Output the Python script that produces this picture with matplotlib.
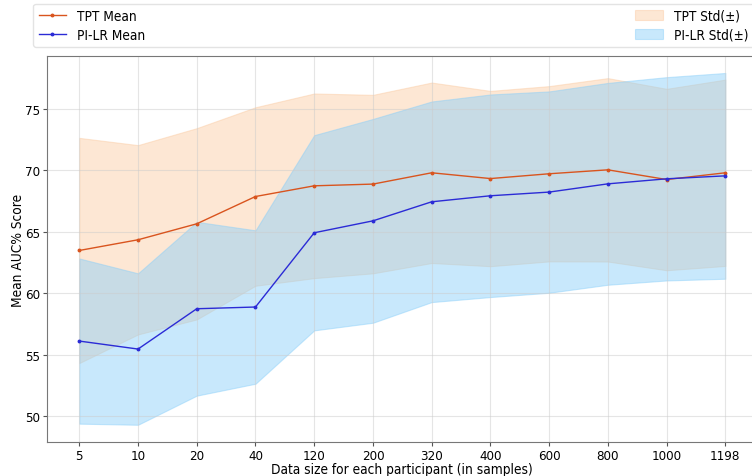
import numpy as np
import matplotlib
matplotlib.use('Agg')
import matplotlib.pyplot as plt

# data
sizes = ['5', '10', '20', '40', '120', '200', '320', '400', '600', '800', '1000', '1198']
tpt_mean = [63.48, 64.35, 65.65, 67.87, 68.74, 68.88, 69.80, 69.33, 69.72, 70.04, 69.25, 69.80]
tpt_std = [9.16, 7.70, 7.78, 7.26, 7.51, 7.26, 7.34, 7.13, 7.13, 7.46, 7.38, 7.58]
pilr_mean = [56.11, 55.46, 58.74, 58.88, 64.92, 65.89, 67.44, 67.93, 68.23, 68.90, 69.31, 69.55]
pilr_std = [6.72, 6.16, 7.07, 6.24, 7.94, 8.29, 8.16, 8.24, 8.19, 8.21, 8.27, 8.37]

plt.rcParams['font.stretch'] = 'condensed'

x = np.arange(len(sizes))
tm, ts = np.array(tpt_mean), np.array(tpt_std)
pm, ps = np.array(pilr_mean), np.array(pilr_std)

fig = plt.figure(figsize=(7.52, 4.77), dpi=100)
ax = fig.add_axes([0.0625, 0.0713, 0.945, 0.8092])

l1, = ax.plot(x, tm, color='#d9541e', lw=1.0, marker='o', ms=1.8, label='TPT Mean')
l2, = ax.plot(x, pm, color='#2b2bd6', lw=1.0, marker='o', ms=1.8, label='PI-LR Mean')
f1 = ax.fill_between(x, tm - ts, tm + ts, color='#fbcaa0', alpha=0.45, lw=0.8, label='TPT Std(±)')
f2 = ax.fill_between(x, pm - ps, pm + ps, color='lightskyblue', alpha=0.45, lw=0.8, label='PI-LR Std(±)')

ax.set_xticks(x)
ax.set_xticklabels(sizes)
ax.set_yticks([50, 55, 60, 65, 70, 75])
ax.set_xlim(-0.55, 11.55)
ax.set_ylim(47.9, 79.3)
ax.tick_params(labelsize=9.5, length=3, pad=2, color='#555555')
ax.grid(True, color='#cccccc', alpha=0.5, lw=0.8)
for s in ax.spines.values():
    s.set_color('#777777')

ax.set_xlabel('Data size for each participant (in samples)', fontsize=9.8, labelpad=0)
ax.set_ylabel('Mean AUC% Score', fontsize=9.8, labelpad=0)

fig.legend(handles=[l1, l2, f1, f2], loc='lower left', ncol=2, mode='expand',
           bbox_to_anchor=(0.044, 0.899, 0.958, 0.084), borderaxespad=0,
           fontsize=9.8, frameon=True, edgecolor='#dddddd', fancybox=True,
           handlelength=2.0, borderpad=0.4, labelspacing=0.35)

fig.savefig('out.png', dpi=100)
